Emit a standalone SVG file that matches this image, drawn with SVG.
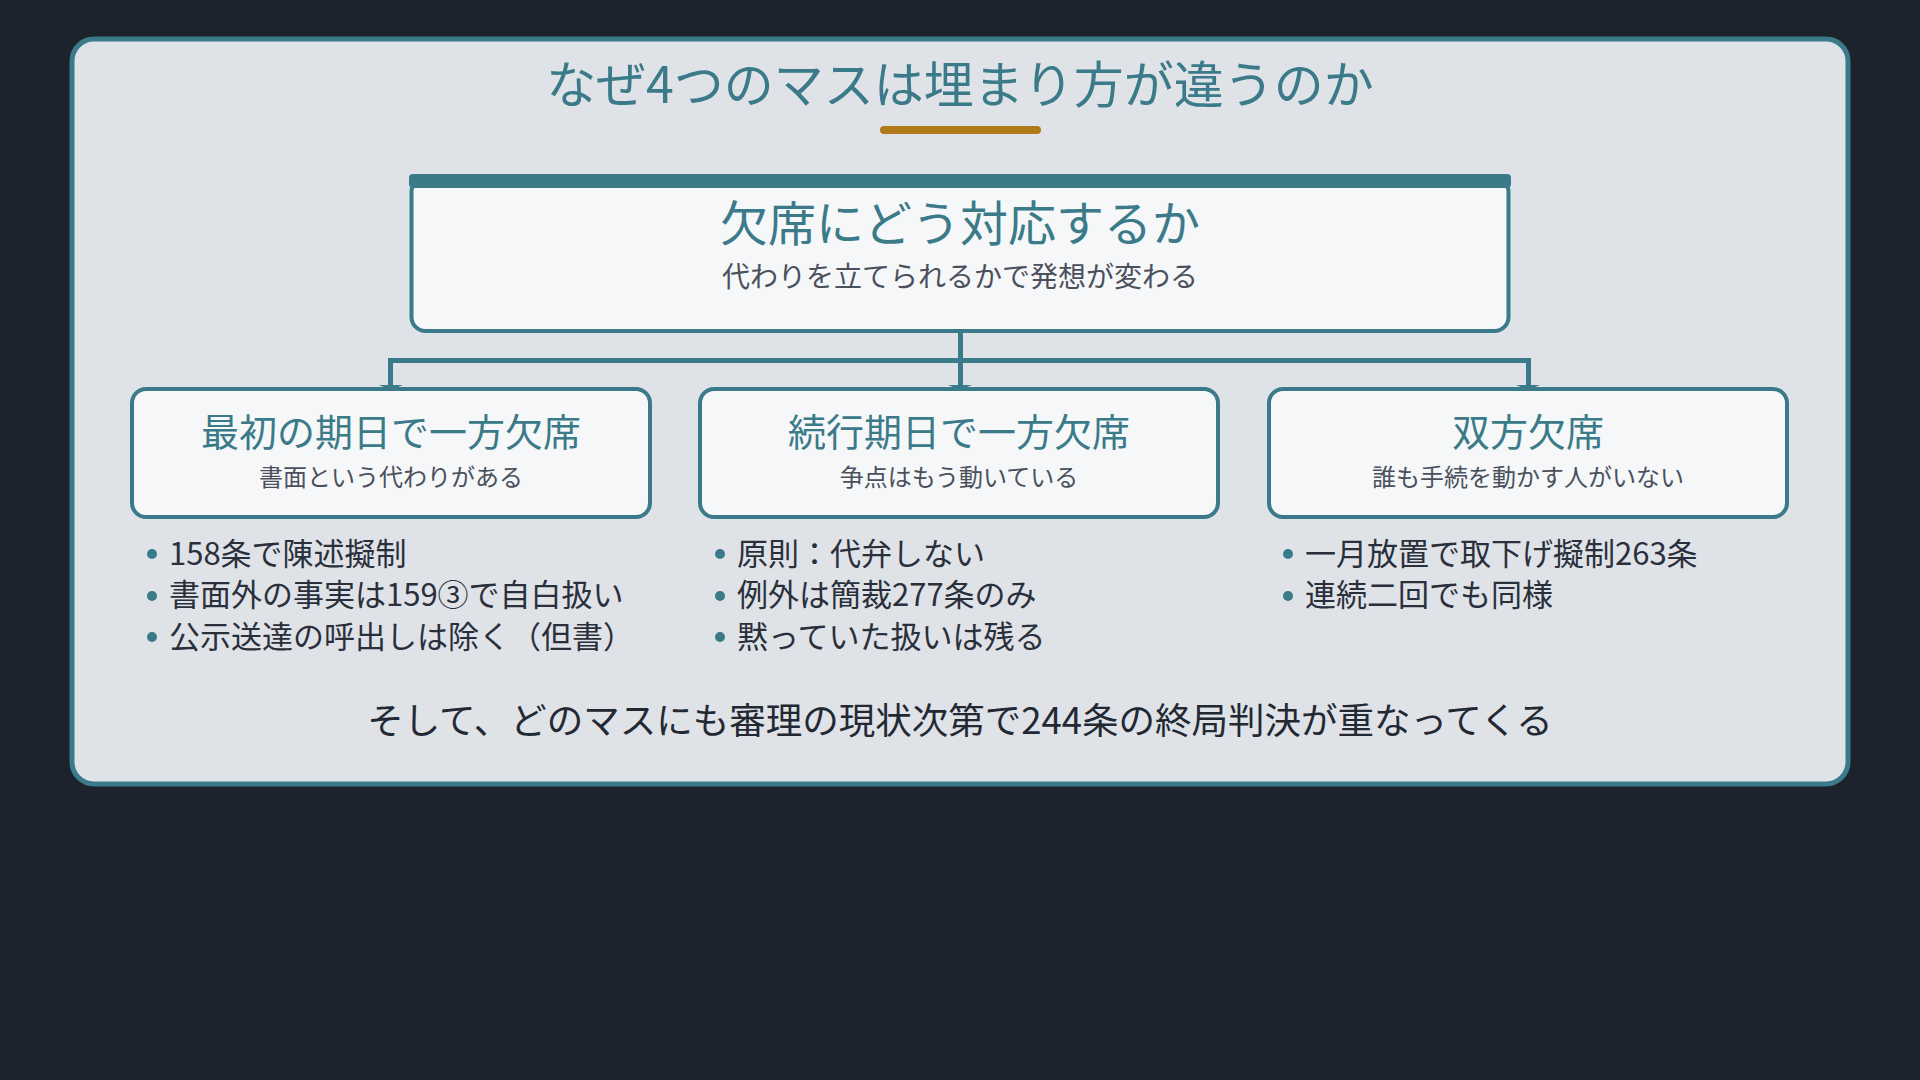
<svg xmlns="http://www.w3.org/2000/svg" width="1920" height="1080" viewBox="0 0 1920 1080">
<defs>
<style>
.jp{font-family:"Noto Sans CJK JP","Noto Sans",sans-serif;}
.title{font-size:50px;fill:#3a7a89;text-anchor:middle;}
.h1{font-size:48px;fill:#3a7a89;text-anchor:middle;}
.s1{font-size:28px;fill:#4a505c;text-anchor:middle;}
.h2{font-size:38px;fill:#3a7a89;text-anchor:middle;}
.s2{font-size:24px;fill:#4a505c;text-anchor:middle;}
.b{font-size:31px;fill:#2a303b;}
.foot{font-size:36.5px;fill:#232933;text-anchor:middle;}
.box{fill:#f6f7f8;stroke:#3a7a89;stroke-width:4;}
.dot{fill:#3a7a89;}
.conn{fill:none;stroke:#3a7a89;stroke-width:5;}
.ah{fill:#3a7a89;}
</style>
</defs>
<rect width="1920" height="1080" fill="#1c232d"/>
<g id="frame">
<rect x="72" y="39" width="1776" height="745" rx="22" fill="#dfe2e7" stroke="#3a7a89" stroke-width="5"/>
</g>
<g id="heading">
<text class="jp title" x="960" y="103">なぜ4つのマスは埋まり方が違うのか</text>
<line x1="884" y1="130" x2="1037" y2="130" stroke="#b07a1a" stroke-width="8" stroke-linecap="round"/>
</g>
<g id="connectors">
<path class="conn" d="M960.5,332 V360.5 M390.5,360.5 H1528.5 M390.5,358 V386 M960.5,358 V386 M1528.5,358 V386"/>
<path class="ah" d="M379,385 H403 L391,390 Z M948,385 H972 L960,390 Z M1516,385 H1540 L1528,390 Z"/>
</g>
<g id="node-root">
<rect class="box" x="411.5" y="178" width="1097" height="153" rx="14" stroke-width="5"/>
<rect x="409" y="174" width="1102" height="14" rx="4" fill="#3a7a89"/>
<text class="jp h1" x="960" y="241">欠席にどう対応するか</text>
<text class="jp s1" x="960" y="287">代わりを立てられるかで発想が変わる</text>
</g>
<g id="node-first">
<rect class="box" x="132" y="389" width="518" height="128" rx="14"/>
<text class="jp h2" x="391" y="446">最初の期日で一方欠席</text>
<text class="jp s2" x="391" y="486">書面という代わりがある</text>
<circle class="dot" cx="152" cy="554" r="5"/>
<text class="jp b" x="169" y="565">158条で陳述擬制</text>
<circle class="dot" cx="152" cy="596" r="5"/>
<text class="jp b" x="169" y="606">書面外の事実は159③で自白扱い</text>
<circle class="dot" cx="152" cy="637" r="5"/>
<text class="jp b" x="169" y="648">公示送達の呼出しは除く（但書）</text>
</g>
<g id="node-cont">
<rect class="box" x="700" y="389" width="518" height="128" rx="14"/>
<text class="jp h2" x="959" y="446">続行期日で一方欠席</text>
<text class="jp s2" x="959" y="486">争点はもう動いている</text>
<circle class="dot" cx="720" cy="554" r="5"/>
<text class="jp b" x="737" y="565">原則：代弁しない</text>
<circle class="dot" cx="720" cy="596" r="5"/>
<text class="jp b" x="737" y="606">例外は簡裁277条のみ</text>
<circle class="dot" cx="720" cy="637" r="5"/>
<text class="jp b" x="737" y="648">黙っていた扱いは残る</text>
</g>
<g id="node-both">
<rect class="box" x="1269" y="389" width="518" height="128" rx="14"/>
<text class="jp h2" x="1528" y="446">双方欠席</text>
<text class="jp s2" x="1528" y="486">誰も手続を動かす人がいない</text>
<circle class="dot" cx="1288" cy="554" r="5"/>
<text class="jp b" x="1305" y="565">一月放置で取下げ擬制263条</text>
<circle class="dot" cx="1288" cy="596" r="5"/>
<text class="jp b" x="1305" y="606">連続二回でも同様</text>
</g>
<g id="footer">
<text class="jp foot" x="960" y="734">そして、どのマスにも審理の現状次第で244条の終局判決が重なってくる</text>
</g>
</svg>
